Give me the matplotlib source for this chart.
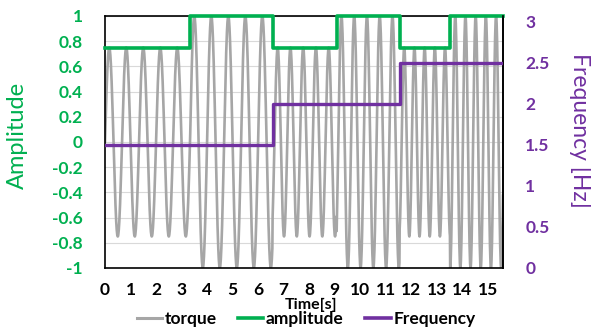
import numpy as np
import matplotlib
matplotlib.use("Agg")
from matplotlib import pyplot as plt
from matplotlib.lines import Line2D

plt.rcParams['font.family'] = ['Lato', 'DejaVu Sans']

# step series (time in s)
amp_edges = [0, 3.33, 6.57, 9.08, 11.55, 13.53, 15.6]
amp_levels = [0.75, 1.0, 0.75, 1.0, 0.75, 1.0]
freq_edges = [0, 6.57, 11.57, 15.6]
freq_levels = [1.5, 2.0, 2.5]

x_ticks = list(range(16))
left_ticks = [-1, -0.8, -0.6, -0.4, -0.2, 0, 0.2, 0.4, 0.6, 0.8, 1]
left_labels = ['-1', '-0.8', '-0.6', '-0.4', '-0.2', '0', '0.2', '0.4', '0.6', '0.8', '1']
right_ticks = [0, 0.5, 1, 1.5, 2, 2.5, 3]
right_labels = ['0', '0.5', '1', '1.5', '2', '2.5', '3']

GREEN = '#00B050'
PURPLE = '#7030A0'
GRAY = '#A6A6A6'


def level_at(edges, levels, t):
    idx = np.searchsorted(edges, t, side='right') - 1
    idx = np.clip(idx, 0, len(levels) - 1)
    return np.array(levels)[idx]


# torque signal: sine with the plotted amplitude and frequency
dt = 0.01
t = np.arange(0, amp_edges[-1] + dt / 2, dt)
amp_t = level_at(amp_edges, amp_levels, t)
freq_t = level_at(freq_edges, freq_levels, t)
phase = 2 * np.pi * np.concatenate([[0], np.cumsum(freq_t[:-1]) * dt])
torque = amp_t * np.sin(phase)

fig = plt.figure(figsize=(5.91, 3.30), dpi=100)
ax = fig.add_axes([105 / 591, 1 - 268 / 330, (503 - 105) / 591, (268 - 16) / 330])
ax2 = ax.twinx()

ax.plot(t, torque, color=GRAY, lw=1.9, zorder=2)
ax.plot(amp_edges, amp_levels + [amp_levels[-1]], drawstyle='steps-post',
        color=GREEN, lw=2.6, zorder=3, clip_on=False)
ax2.plot(freq_edges, freq_levels + [freq_levels[-1]], drawstyle='steps-post',
         color=PURPLE, lw=2.4, zorder=3)

ax.set_xlim(0, 15.6)
ax.set_ylim(-1, 1)
ax2.set_ylim(0, 3.073)

ax.set_xticks(x_ticks)
ax.set_xticklabels([str(v) for v in x_ticks], fontsize=12.5, fontweight='bold')
ax.set_yticks(left_ticks)
ax.set_yticklabels(left_labels, fontsize=12.5, fontweight='bold', color=GREEN)
ax2.set_yticks(right_ticks)
ax2.set_yticklabels(right_labels, fontsize=12.5, fontweight='bold', color=PURPLE)

ax.tick_params(axis='x', length=0, pad=10)
ax.tick_params(axis='y', length=0, pad=16)
ax2.tick_params(axis='y', length=0, pad=16)

ax.grid(axis='y', color='#D9D9D9', lw=0.8)
ax.set_axisbelow(True)
for s in ax.spines.values():
    s.set_color('black')
    s.set_linewidth(1.2)
for name in ['top', 'left', 'bottom']:
    ax2.spines[name].set_visible(False)
ax2.spines['right'].set_color('black')
ax2.spines['right'].set_linewidth(1.2)

fig.text(17 / 591, 1 - 135 / 330, 'Amplitude', rotation=90, color=GREEN,
         fontsize=17, ha='center', va='center')
fig.text(580 / 591, 1 - 130 / 330, 'Frequency [Hz]', rotation=270, color=PURPLE,
         fontsize=16.5, ha='center', va='center')
fig.text(311 / 591, 1 - 305 / 330, 'Time[s]', fontsize=11.5, fontweight='bold',
         ha='center', va='center')

handles = [Line2D([], [], color=GRAY, lw=2.2),
           Line2D([], [], color=GREEN, lw=2.6),
           Line2D([], [], color=PURPLE, lw=2.6)]
fig.legend(handles, ['torque', 'amplitude', 'Frequency'], loc='center',
           bbox_to_anchor=(306 / 591, 1 - 319 / 330), ncol=3, frameon=False,
           prop={'size': 12.5, 'weight': 'bold'}, handlelength=1.45,
           handletextpad=0.15, columnspacing=1.25, borderpad=0, borderaxespad=0)

fig.savefig('out.png', dpi=100)
